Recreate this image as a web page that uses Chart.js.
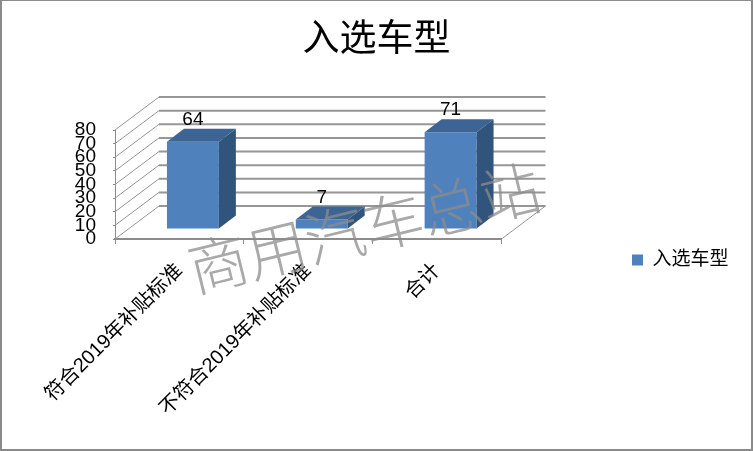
<!DOCTYPE html>
<html><head><meta charset="utf-8">
<style>html,body{margin:0;padding:0;background:#fff}canvas{display:block}</style>
<script src="https://cdn.jsdelivr.net/npm/chart.js@4"></script>
</head><body><canvas id="c" width="753" height="451"></canvas>
<script>
const categories = ['符合2019年补贴标准', '不符合2019年补贴标准', '合计'];
const seriesName = '入选车型';
const values = [64, 7, 71];
const titleText = '入选车型';
const watermark = '商用汽车总站';
const FONT = '"Liberation Sans","Noto Sans CJK SC",sans-serif';
const WALL = {dx: 44, dy: -33};
const BAR_SHIFT = {dx: 13.5, dy: -10};
const BAR_DEPTH = {dx: 17, dy: -13};
const GRID = '#969696', AXIS = '#8c8c8c';

const scene = {
  id: 'scene',
  afterLayout(chart) {
    const l = chart.legend;
    const w = l.right - l.left;
    l.left = 622; l.right = 622 + w;
    const h = l.bottom - l.top;
    const mid = 260;
    l.top = mid - h / 2; l.bottom = mid + h / 2;
    const t = chart.titleBlock;
    t.left = 0; t.right = chart.width;
  },
  beforeDraw(chart) {
    const {ctx} = chart;
    ctx.save();
    ctx.fillStyle = '#fff';
    ctx.fillRect(0, 0, chart.width, chart.height);
    ctx.strokeStyle = '#8a8a8a';
    ctx.lineWidth = 2;
    ctx.strokeRect(1, 0, chart.width - 2, chart.height - 1);
    ctx.restore();
  },
  beforeDatasetsDraw(chart) {
    const {ctx, scales: {x, y}, chartArea: a} = chart;
    ctx.save();
    y.ticks.forEach(t => {
      const p = y.getPixelForValue(t.value);
      ctx.strokeStyle = GRID;
      ctx.lineWidth = 1;
      ctx.beginPath(); ctx.moveTo(a.left, p); ctx.lineTo(a.left + WALL.dx, p + WALL.dy); ctx.stroke();
      ctx.lineWidth = 2;
      ctx.beginPath(); ctx.moveTo(a.left + WALL.dx, p + WALL.dy); ctx.lineTo(a.right + WALL.dx, p + WALL.dy); ctx.stroke();
    });
    ctx.lineWidth = 1;
    ctx.strokeStyle = GRID;
    ctx.beginPath(); ctx.moveTo(a.right, a.bottom); ctx.lineTo(a.right + WALL.dx, a.bottom + WALL.dy); ctx.stroke();
    ctx.restore();
    ctx.save();
    ctx.translate(BAR_SHIFT.dx, BAR_SHIFT.dy);
  },
  afterDatasetsDraw(chart) {
    const {ctx} = chart;
    chart.getDatasetMeta(0).data.forEach((el, i) => {
      const L = el.x - el.width / 2, R = el.x + el.width / 2, T = el.y, B = el.base;
      const {dx, dy} = BAR_DEPTH;
      ctx.fillStyle = '#31547d';
      ctx.beginPath();
      ctx.moveTo(R, T); ctx.lineTo(R + dx, T + dy); ctx.lineTo(R + dx, B + dy); ctx.lineTo(R, B);
      ctx.closePath(); ctx.fill();
      ctx.fillStyle = '#3c6494';
      ctx.beginPath();
      ctx.moveTo(L, T); ctx.lineTo(L + dx, T + dy); ctx.lineTo(R + dx, T + dy); ctx.lineTo(R, T);
      ctx.closePath(); ctx.fill();
      ctx.fillStyle = '#000';
      ctx.font = '19px ' + FONT;
      ctx.textAlign = 'center';
      ctx.textBaseline = 'middle';
      ctx.fillText(String(values[i]), el.x, T + dy - 9);
    });
    ctx.restore();
  },
  afterDraw(chart) {
    const {ctx} = chart;
    ctx.save();
    ctx.translate(364, 228);
    ctx.rotate(-13.7 * Math.PI / 180);
    ctx.fillStyle = 'rgba(140,140,140,0.75)';
    ctx.font = '300 60px "Noto Sans CJK SC",sans-serif';
    ctx.textAlign = 'center';
    ctx.textBaseline = 'middle';
    ctx.fillText(watermark, 0, 0);
    ctx.restore();
  }
};

new Chart(document.getElementById('c'), {
  type: 'bar',
  data: {
    labels: categories,
    datasets: [{
      label: seriesName,
      data: values,
      backgroundColor: '#4f81bd',
      borderWidth: 0,
      barPercentage: 0.403,
      categoryPercentage: 1
    }]
  },
  options: {
    responsive: false,
    devicePixelRatio: 1,
    animation: false,
    layout: {padding: {left: 0, right: 135, top: 0, bottom: 0}},
    plugins: {
      tooltip: {enabled: false},
      title: {
        display: true,
        text: titleText,
        color: '#000',
        font: {size: 37, family: FONT, weight: 'normal'},
        padding: {top: 19, bottom: 66.6}
      },
      legend: {
        position: 'right',
        labels: {
          boxWidth: 11, boxHeight: 11, padding: 10, color: '#000',
          font: {size: 19, family: FONT}
        }
      }
    },
    scales: {
      x: {
        afterFit(s) { s.height = 451 - 239; },
        border: {color: AXIS, width: 2},
        grid: {display: true, drawOnChartArea: false, tickColor: AXIS, tickLength: 5, tickWidth: 1},
        ticks: {
          autoSkip: false, maxRotation: 45, minRotation: 45, color: '#000', padding: 15,
          font: {size: 20, family: FONT}
        }
      },
      y: {
        min: 0, max: 80,
        afterFit(s) { s.width = 115; },
        border: {color: AXIS, width: 1},
        grid: {display: true, drawOnChartArea: false, tickColor: AXIS, tickLength: 2},
        ticks: {
          stepSize: 10, autoSkip: false, color: '#000', padding: 17,
          font: {size: 19, family: FONT}
        }
      }
    }
  },
  plugins: [scene]
});
</script>
</body></html>
